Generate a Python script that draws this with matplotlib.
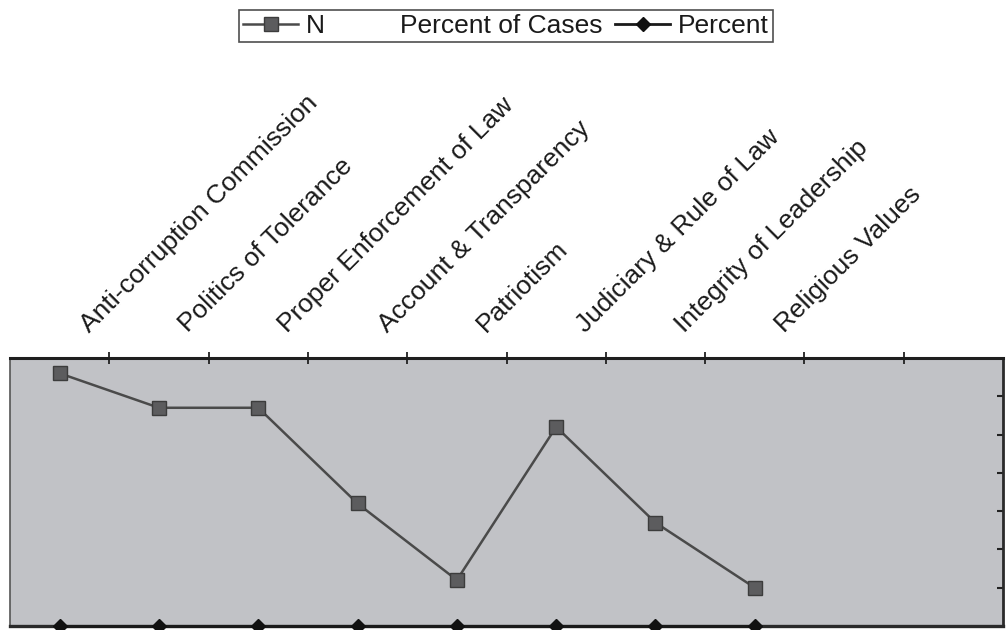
import matplotlib
matplotlib.use("Agg")
import matplotlib.pyplot as plt
from matplotlib.lines import Line2D
from matplotlib.transforms import blended_transform_factory, ScaledTranslation

categories = [
    "Anti-corruption Commission",
    "Politics of Tolerance",
    "Proper Enforcement of Law",
    "Account & Transparency",
    "Patriotism",
    "Judiciary & Rule of Law",
    "Integrity of Leadership",
    "Religious Values",
]
n_values = [66, 57, 57, 32, 12, 52, 27, 10]
percent_values = [0, 0, 0, 0, 0, 0, 0, 0]
y_ticks = [10, 20, 30, 40, 50, 60]

plt.rcParams["font.family"] = ["Liberation Sans", "DejaVu Sans"]

fig = plt.figure(figsize=(10.06, 6.30), dpi=100)
ax = fig.add_axes([10 / 1006, 1 - 626 / 630, 993 / 1006, 268 / 630])
ax.set_facecolor("#c1c2c6")

x = list(range(len(categories)))
ax.plot(x, n_values, color="#4a4a4a", lw=1.8, marker="s", ms=9.5,
        mfc="#5c5c5e", mec="#3c3c3c", mew=1.0, zorder=3)
ax.plot(x, percent_values, color="#1a1a1a", lw=2.2, marker="D", ms=7,
        mfc="#111111", mec="#111111", zorder=4, clip_on=False)

ax.set_xlim(-0.5, 9.5)
ax.set_ylim(0, 70)

# category boundaries as ticks on the top edge
ax.xaxis.tick_top()
ax.set_xticks([i + 0.5 for i in range(9)])
ax.set_xticklabels([])
ax.tick_params(axis="x", which="major", direction="inout", length=8,
               width=1.3, color="#222222", top=True, bottom=False)

# value ticks on the right edge, pointing inward
ax.yaxis.tick_right()
ax.set_yticks(y_ticks)
ax.set_yticklabels([])
ax.tick_params(axis="y", direction="in", length=4, width=1.5,
               color="#222222", right=True, left=False)

for side, lw, col in [("top", 2.2, "#1e1e1e"), ("bottom", 2.4, "#2a2a2a"),
                      ("left", 1.2, "#555555"), ("right", 2.0, "#2a2a2a")]:
    ax.spines[side].set_linewidth(lw)
    ax.spines[side].set_color(col)

# rotated category labels above the plot area
trans = blended_transform_factory(ax.transData, ax.transAxes) + \
    ScaledTranslation(33 / 100, 21 / 100, fig.dpi_scale_trans)
for xi, name in zip(x, categories):
    ax.text(xi, 1.0, name, transform=trans, rotation=45, ha="left",
            va="bottom", rotation_mode="anchor", fontsize=19,
            color="#1a1a1a")

handles = [
    Line2D([], [], color="#4a4a4a", lw=1.8, marker="s", ms=9.5,
           mfc="#5c5c5e", mec="#3c3c3c"),
    Line2D([], [], color="none"),
    Line2D([], [], color="#1a1a1a", lw=2.0, marker="D", ms=7,
           mfc="#111111", mec="#111111"),
]
leg = fig.legend(handles, ["N", "Percent of Cases", "Percent"], ncol=3,
                 loc="center", bbox_to_anchor=(506 / 1006, 1 - 26 / 630),
                 fontsize=19, frameon=True, fancybox=False,
                 handlelength=2.1, handletextpad=0.3, columnspacing=0.45,
                 borderpad=0.15, borderaxespad=0)
leg.get_frame().set_edgecolor("#222222")
leg.get_frame().set_linewidth(1.2)
for t in leg.get_texts():
    t.set_color("#1a1a1a")

fig.savefig("out.png", dpi=100, facecolor="white")
